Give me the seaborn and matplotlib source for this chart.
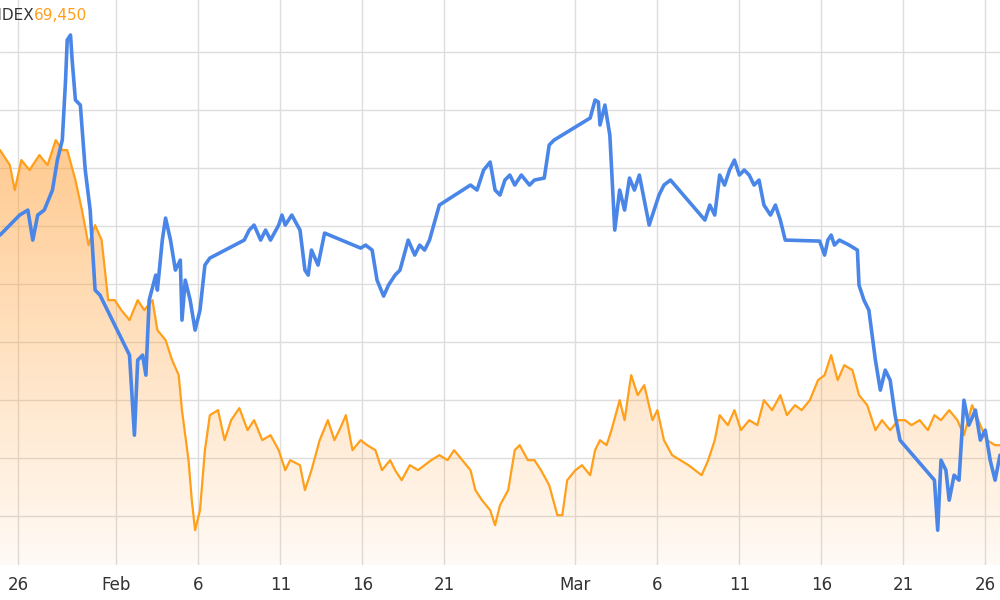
import numpy as np
import pandas as pd
import matplotlib
matplotlib.use("Agg")
import matplotlib.pyplot as plt
import matplotlib.dates as mdates
from matplotlib.path import Path
from matplotlib.patches import PathPatch
import seaborn as sns

base = pd.Timestamp("2023-01-24 21:40")

orange_days = [0,0.6,0.9,1.3,1.8,2.4,2.9,3.4,3.8,4.1,4.6,5.0,5.4,5.8,6.2,6.6,7.0,7.4,7.9,8.4,8.8,9.3,9.6,10.1,10.5,10.9,11.1,11.5,11.7,11.9,12.2,12.5,12.8,13.3,13.7,14.1,14.6,15.1,15.5,16.0,16.5,17.0,17.4,17.7,18.3,18.6,19.0,19.5,20.0,20.4,20.7,21.1,21.5,22.0,22.4,22.9,23.3,23.8,24.1,24.5,25.0,25.5,25.9,26.3,26.8,27.3,27.7,28.2,28.7,29.0,29.4,29.9,30.2,30.5,31.0,31.4,31.7,32.2,32.6,33.0,33.5,34.0,34.3,34.6,35.1,35.5,36.0,36.3,36.6,37.0,37.3,37.8,38.1,38.5,38.9,39.3,39.8,40.1,40.5,41.0,41.5,42.0,42.4,42.8,43.2,43.6,43.9,44.4,44.8,45.2,45.7,46.2,46.6,47.1,47.6,48.0,48.5,48.9,49.4,49.9,50.3,50.7,51.1,51.5,52.0,52.4,52.9,53.4,53.8,54.3,54.8,55.2,55.6,56.1,56.6,57.0,57.4,57.9,58.4,58.8,59.3,59.8,60.2,60.7,61.0]
orange_px = [150,165,190,160,170,155,165,140,150,150,180,210,245,225,240,300,300,310,320,300,310,300,330,340,360,375,410,460,500,530,510,450,415,410,440,420,408,430,420,440,435,450,470,460,465,490,470,440,420,440,430,415,450,440,445,450,470,460,470,480,465,470,465,460,455,460,450,460,470,490,500,510,525,505,490,450,445,460,460,470,485,515,515,480,470,465,475,450,440,445,430,400,420,375,395,385,420,410,440,455,460,465,470,475,460,440,415,425,410,430,420,425,400,410,395,415,405,410,400,380,375,355,380,365,370,395,405,430,420,430,420,420,425,420,430,415,420,410,420,435,405,425,440,445,445]
orange_vals = [69450 + (445 - p) * 10 for p in orange_px]

blue_days = [0,0.6,1.2,1.7,2.0,2.3,2.7,3.2,3.5,3.8,4.0,4.1,4.3,4.4,4.6,4.9,5.2,5.5,5.8,6.1,7.9,8.2,8.4,8.7,8.9,9.1,9.5,9.6,9.9,10.1,10.4,10.7,11.0,11.1,11.3,11.6,11.9,12.2,12.5,12.8,14.9,15.2,15.5,15.9,16.2,16.5,17.0,17.2,17.4,17.8,18.3,18.6,18.8,19.0,19.4,19.8,22.0,22.3,22.7,23.0,23.4,23.7,24.1,24.4,24.9,25.3,25.6,25.9,26.2,26.8,28.7,29.1,29.5,29.9,30.2,30.5,30.8,31.1,31.4,31.8,32.3,32.6,33.2,33.5,33.8,36.0,36.3,36.5,36.6,36.9,37.2,37.5,37.8,38.1,38.4,38.7,39.0,39.3,39.6,39.9,40.2,40.5,40.9,43.0,43.3,43.6,43.9,44.2,44.5,44.8,45.1,45.4,45.7,46.0,46.3,46.6,47.0,47.3,47.6,47.9,50.0,50.3,50.5,50.7,50.9,51.2,51.8,52.3,52.4,52.7,53.0,53.4,53.7,54.0,54.3,54.6,54.9,57.0,57.2,57.4,57.7,57.9,58.2,58.5,58.8,59.1,59.5,59.8,60.1,60.4,60.7,61.0]
blue_px = [235,225,215,210,240,215,210,190,160,140,80,40,35,60,100,105,170,210,290,295,355,435,360,355,375,300,275,290,240,218,240,270,260,320,280,300,330,310,265,258,240,230,225,240,230,240,225,215,225,215,230,270,275,250,265,233,248,245,250,280,296,285,275,270,240,255,245,250,240,205,185,190,170,162,190,195,180,175,185,175,185,180,178,145,140,118,100,102,125,105,135,230,190,210,178,190,175,200,225,210,195,185,180,220,205,215,175,185,170,160,175,170,175,185,180,205,215,205,220,240,241,255,240,235,245,240,245,250,285,300,310,360,390,370,380,415,440,480,530,460,470,500,475,480,400,425,410,440,430,460,480,455]
blue_vals = [3000 + (300 - p) * 2 for p in blue_px]

tick_dates = ["2023-01-26","2023-02-01","2023-02-06","2023-02-11","2023-02-16","2023-02-21",
              "2023-03-01","2023-03-06","2023-03-11","2023-03-16","2023-03-21","2023-03-26"]
tick_labels = ["26","Feb","6","11","16","21","Mar","6","11","16","21","26"]

odf = pd.DataFrame({"t": base + pd.to_timedelta(orange_days, unit="D"), "v": orange_vals})
bdf = pd.DataFrame({"t": base + pd.to_timedelta(blue_days, unit="D"), "v": blue_vals})

sns.set_theme(style="white")
plt.rcParams['font.family'] = ['DejaVu Sans']
fig = plt.figure(figsize=(10, 6), dpi=100)
ax = fig.add_axes([0, 0.058, 1, 0.942])
ax2 = ax.twinx()

xmin, xmax = base, base + pd.Timedelta(days=61)
o_lo, o_hi = 68250, 73900
b_lo, b_hi = 2470, 3600

xnum = mdates.date2num(odf["t"])
verts = [(xnum[0], o_lo)] + list(zip(xnum, odf["v"])) + [(xnum[-1], o_lo)]
patch = PathPatch(Path(verts), facecolor="none", edgecolor="none")
ax.add_patch(patch)
grad = np.zeros((100, 1, 4))
grad[..., 0] = 1.0; grad[..., 1] = 0.62; grad[..., 2] = 0.2
grad[..., 3] = np.linspace(0.55, 0.05, 100)[:, None]
im = ax.imshow(grad, aspect="auto", extent=[mdates.date2num(xmin), mdates.date2num(xmax), o_lo, max(orange_vals)],
               origin="upper", zorder=1)
im.set_clip_path(patch)

sns.lineplot(data=odf, x="t", y="v", ax=ax, color="#ff9f1a", linewidth=1.6, zorder=3)
sns.lineplot(data=bdf, x="t", y="v", ax=ax2, color="#4a86e8", linewidth=2.6, zorder=4)

ax.set_xlim(xmin, xmax)
ax.set_ylim(o_lo, o_hi)
ax2.set_ylim(b_lo, b_hi)
grid_vals = [73380 - 580 * i for i in range(9)]
ax.set_yticks(grid_vals)
ax.set_xticks(pd.to_datetime(tick_dates))
ax.set_xticklabels(tick_labels, color="#333333", fontsize=12)
ax.tick_params(axis="x", length=0, pad=8)
ax.tick_params(axis="y", length=0, labelleft=False)
ax2.set_yticks([])
ax.grid(True, color="#dddddd", linewidth=1)
ax.set_axisbelow(True)
for a in (ax, ax2):
    a.set_xlabel(""); a.set_ylabel("")
    for s in a.spines.values():
        s.set_visible(False)

fig.text(-0.013, 0.975, "INDEX", fontsize=11, color="#333333", va="center")
fig.text(0.034, 0.975, "69,450", fontsize=11, color="#ff9f1a", va="center")

fig.savefig("out.png", dpi=100)
